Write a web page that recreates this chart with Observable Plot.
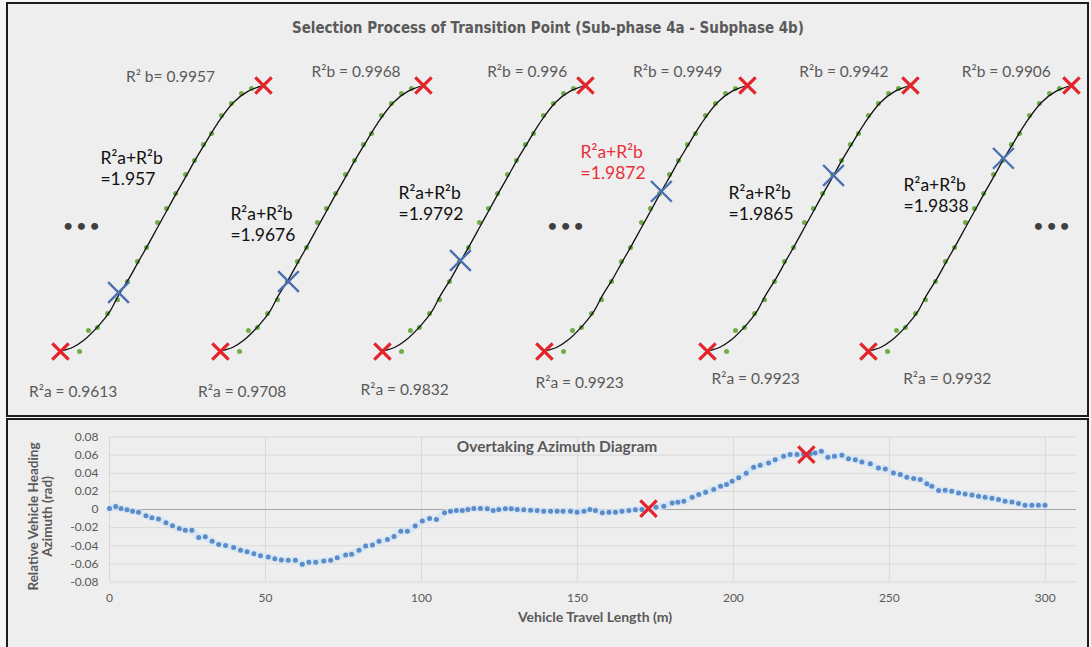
<!DOCTYPE html>
<html>
<head>
<meta charset="utf-8">
<script src="https://cdn.jsdelivr.net/npm/d3@7"></script>
<script src="https://cdn.jsdelivr.net/npm/@observablehq/plot@0.6"></script>
<style>
  html, body { margin:0; padding:0; background:#f5f5f5; }
  body { width:1091px; height:647px; position:relative; overflow:hidden; font-family: Lato, "Open Sans", sans-serif; }
  .panel { position:absolute; box-sizing:border-box; border:2px solid #1c1c1c; background:#eeeeee; }
  #topPanel { left:6px; top:2px; width:1083px; height:415px; }
  #bottomPanel { left:6px; top:418px; width:1083px; height:240px; }
  #topTitle { position:absolute; left:0; top:0; width:100%; height:42px; line-height:46px; text-align:center; }
  #titleText { display:inline-block; transform-origin:50% 50%;
    font-family:"Liberation Sans Narrow","DejaVu Sans Condensed",sans-serif; font-weight:bold; font-size:16.5px; color:#5a5a5a; }
  #topChart { position:absolute; left:0; top:42px; }
  #bottomChart { position:absolute; left:0; top:0; }
</style>
</head>
<body>
<div id="topPanel" class="panel">
  <div id="topTitle"><span id="titleText">Selection Process of Transition Point (Sub-phase 4a - Subphase 4b)</span></div>
  <div id="topChart"></div>
</div>
<div id="bottomPanel" class="panel"><div id="bottomChart"></div></div>
<script>
// ---------- Top panel: lane-change curve (relative units, 0..100) ----------
const shapeX = [0, 1.5, 5.9, 11.3, 19.7, 24.6, 28.6, 33.5, 38.4, 42.9, 47.8, 52.7, 57.6, 62.1, 66.5, 70.4, 77.3, 85.2, 92.1, 100];
const shapeY = [0, 0.4, 1.5, 4.1, 10.5, 15.4, 21.1, 27.1, 33.8, 39.8, 46.6, 53.4, 60.2, 66.2, 72.2, 77.1, 85.7, 93.6, 97.7, 100];
// measured sample points (green)
const sampleX = [9.4, 13.8, 18.2, 23.2, 28.1, 33.0, 37.9, 42.4, 47.8, 52.2, 56.7, 61.6, 66.0, 70.4, 74.4, 79.3, 84.2, 89.2, 94.1];
const sampleY = [0, 7.9, 9.0, 14.3, 19.5, 26.3, 33.8, 39.1, 48.5, 53.8, 59.4, 66.5, 71.8, 77.8, 82.0, 88.7, 93.2, 97.0, 98.9];
// candidate windows
const windowOffset = [0, 78.8, 158.6, 238.4, 318.7, 398];
const transX = [28.6, 33.5, 38.4, 57.6, 62.1, 66.5];
const transY = [22.2, 26.3, 34.2, 60.2, 66.2, 72.6];
const r2a = ["0.9613", "0.9708", "0.9832", "0.9923", "0.9923", "0.9932"];
const r2b = ["0.9957", "0.9968", "0.996", "0.9949", "0.9942", "0.9906"];
const r2sum = ["1.957", "1.9676", "1.9792", "1.9872", "1.9865", "1.9838"];
const selectedWindow = 3;
// annotation anchors (top-panel units)
const r2bPosX = [54.2, 145.6, 229.9, 304.0, 385.9, 465.9];
const r2bPosY = [103.0, 104.9, 104.9, 104.9, 104.9, 104.9];
const r2aPosX = [6.2, 89.5, 169.5, 255.7, 342.4, 436.8];
const r2aPosY = [-15.4, -15.4, -14.3, -11.9, -10.2, -10.2];
const sumPosX = [19.7, 83.7, 166.5, 256.2, 329.1, 415.3];
const sumPosY = [69.0, 48.1, 55.8, 71.4, 55.8, 59.0];
const ellipsisX = [10.3, 248.8, 488.2];
const ellipsisY = [47.4, 47.4, 47.4];

// ---------- Bottom panel: azimuth data ----------
const travel = [0, 2.0, 3.7, 5.6, 7.4, 9.3, 11.7, 13.6, 15.7, 18.1, 20.2, 22.4, 24.3, 26.4, 28.6, 30.7, 32.9, 35.0, 37.2, 39.8,
  42.0, 44.1, 46.3, 48.4, 50.9, 53.0, 55.1, 57.3, 59.6, 61.8, 63.9, 66.1, 68.7, 70.9, 73.0, 75.7, 77.6, 80.0, 82.1, 84.3,
  86.4, 89.1, 91.2, 93.4, 95.5, 98.0, 100.3, 102.6, 104.8, 107.4, 109.3, 111.2, 113.1, 114.9, 116.8, 118.9, 121.1, 123.0, 124.8, 126.9,
  128.8, 130.7, 132.8, 135.0, 137.1, 139.2, 141.4, 143.5, 145.4, 147.8, 149.9, 152.1, 154.0, 155.8, 158.0, 160.1, 162.2, 164.3, 166.5, 168.6,
  170.7, 172.8, 175.2, 177.7, 180.4, 182.2, 184.1, 186.8, 188.9, 191.1, 193.7, 195.9, 197.8, 199.6, 201.7, 204.1, 206.5, 208.6, 211.3, 213.4,
  216.1, 218.2, 220.4, 222.5, 224.6, 226.2, 228.2, 230.3, 232.4, 234.8, 236.9, 239.1, 241.2, 243.9, 246.5, 248.7, 251.3, 253.5, 255.6, 257.8,
  259.9, 262.0, 263.6, 265.8, 267.9, 270.0, 272.2, 274.3, 276.5, 278.6, 280.7, 282.9, 285.0, 287.1, 289.3, 291.4, 293.5, 295.7, 297.8, 299.9];
const azimuth = [0.001, 0.0033, 0.0011, -0.0004, -0.0018, -0.003, -0.007, -0.009, -0.0106, -0.0147, -0.018, -0.021, -0.023, -0.023, -0.031, -0.030, -0.035, -0.0385, -0.0396, -0.042,
  -0.045, -0.0466, -0.0488, -0.051, -0.0525, -0.0543, -0.0558, -0.056, -0.056, -0.0605, -0.0583, -0.0583, -0.0569, -0.0561, -0.0532, -0.0503, -0.0495, -0.0451, -0.0404, -0.0393,
  -0.0349, -0.033, -0.0297, -0.0239, -0.0239, -0.0183, -0.0128, -0.0099, -0.011, -0.0037, -0.0018, -0.0011, -0.0011, 0, 0.0011, 0.0011, 0.0007, -0.0011, 0, 0.0007,
  0.0007, 0, -0.0004, -0.0007, -0.0011, -0.0018, -0.0018, -0.0018, -0.0018, -0.0018, -0.0029, -0.0018, 0, -0.0011, -0.0037, -0.0029, -0.0029, -0.0018, -0.0011, -0.0004,
  0, 0.001, 0.0026, 0.0037, 0.0073, 0.0081, 0.0092, 0.0136, 0.0165, 0.0191, 0.022, 0.0257, 0.0275, 0.0312, 0.0349, 0.040, 0.0466, 0.0488, 0.0514, 0.055,
  0.0587, 0.0606, 0.0606, 0.0613, 0.0613, 0.0624, 0.0642, 0.0576, 0.0587, 0.0598, 0.0561, 0.055, 0.0525, 0.0506, 0.0459, 0.0448, 0.0404, 0.0385, 0.0356, 0.0341,
  0.033, 0.0283, 0.0257, 0.0209, 0.0213, 0.0202, 0.0183, 0.0172, 0.0161, 0.0147, 0.0136, 0.0125, 0.011, 0.0092, 0.0084, 0.0066, 0.0048, 0.0048, 0.0048, 0.0048];
const transitionTravel = [172.8, 223.4];
const transitionAzimuth = [0.001, 0.0605];
const xTicks = [0, 50, 100, 150, 200, 250, 300];
const yTicks = [-0.08, -0.06, -0.04, -0.02, 0, 0.02, 0.04, 0.06, 0.08];
const yTitleLines = ["Relative Vehicle Heading", "Azimuth (rad)"];

// ---------- build tables ----------
const curveRows = [], sampleRows = [], endRows = [], transRows = [];
windowOffset.forEach((off, i) => {
  shapeX.forEach((sx, j) => curveRows.push({u: sx + off, v: shapeY[j], w: i}));
  sampleX.forEach((sx, j) => sampleRows.push({u: sx + off, v: sampleY[j]}));
  endRows.push({u: shapeX[0] + off, v: shapeY[0]});
  endRows.push({u: shapeX[shapeX.length - 1] + off, v: shapeY[shapeY.length - 1]});
  transRows.push({u: transX[i] + off, v: transY[i]});
});
const r2bRows = r2b.map((s, i) => ({u: r2bPosX[i], v: r2bPosY[i], t: i === 0 ? `R² b= ${s}` : `R²b = ${s}`}));
const r2aRows = r2a.map((s, i) => ({u: r2aPosX[i], v: r2aPosY[i], t: `R²a = ${s}`}));
const sumRows = r2sum.map((s, i) => ({u: sumPosX[i], v: sumPosY[i], t: `R²a+R²b\n=${s}`, sel: i === selectedWindow}));
const ellRows = ellipsisX.map((x, i) => ({u: x, v: ellipsisY[i]}));

const FONT = "Lato, 'Open Sans', sans-serif";

const topPlot = Plot.plot({
  width: 1079, height: 369,
  marginTop: 0, marginRight: 0, marginBottom: 0, marginLeft: 0,
  x: {domain: [-25.6, 505.9], axis: null},
  y: {domain: [-24.06, 114.66], axis: null},
  style: {background: "transparent", fontFamily: FONT, overflow: "visible"},
  marks: [
    Plot.dot(sampleRows, {x: "u", y: "v", r: 2.5, fill: "#70ad47", stroke: "none"}),
    Plot.line(curveRows, {x: "u", y: "v", z: "w", stroke: "#111111", strokeWidth: 1.3, curve: "catmull-rom"}),
    Plot.dot(endRows, {x: "u", y: "v", symbol: "times", r: 7.5, stroke: "#e3242b", strokeWidth: 3.2}),
    Plot.dot(transRows, {x: "u", y: "v", symbol: "times", r: 9.5, stroke: "#4a6fb3", strokeWidth: 2.4}),
    Plot.text(r2bRows, {x: "u", y: "v", text: "t", fill: "#5a5a5a", fontSize: 15.5, textAnchor: "middle"}),
    Plot.text(r2aRows, {x: "u", y: "v", text: "t", fill: "#5a5a5a", fontSize: 15.5, textAnchor: "middle"}),
    Plot.text(sumRows.filter(d => !d.sel), {x: "u", y: "v", text: "t", fill: "#111111", fontSize: 17.5, textAnchor: "start", lineHeight: 1.2}),
    Plot.text(sumRows.filter(d => d.sel), {x: "u", y: "v", text: "t", fill: "#e8303a", fontSize: 17.5, textAnchor: "start", lineHeight: 1.2}),
    Plot.text(ellRows, {x: "u", y: "v", text: () => "• • •", fill: "#3f3f3f", fontSize: 16, fontWeight: "bold", textAnchor: "middle"})
  ]
});
document.getElementById("topChart").appendChild(topPlot);

const azRows = travel.map((t, i) => ({t, a: azimuth[i]}));
const trRows = transitionTravel.map((t, i) => ({t, a: transitionAzimuth[i]}));
const fmt = d => d === 0 ? "0" : d.toFixed(2);
const yTitleStyle = {frameAnchor: "left", textAnchor: "middle", rotate: -90, dy: 7, fill: "#595959", fontSize: 13.5, fontWeight: "bold", text: d => d};

const bottomPlot = Plot.plot({
  width: 1079, height: 226,
  marginLeft: 101, marginRight: 11, marginTop: 16.5, marginBottom: 64.5,
  x: {domain: [0, 310], ticks: xTicks, tickSize: 0, tickPadding: 11, label: null},
  y: {domain: [-0.08, 0.08], ticks: yTicks, tickSize: 0, tickPadding: 11, tickFormat: fmt, label: null},
  style: {background: "transparent", fontFamily: FONT, fontSize: "12px", color: "#595959", overflow: "visible"},
  marks: [
    Plot.ruleY(yTicks.filter(d => d !== 0), {stroke: "#d9d9d9", strokeWidth: 1}),
    Plot.ruleX(xTicks, {stroke: "#d9d9d9", strokeWidth: 1}),
    Plot.ruleY([0], {stroke: "#a6a6a6", strokeWidth: 1}),
    Plot.line(azRows, {x: "t", y: "a", stroke: "#d3e4f5", strokeWidth: 7, strokeOpacity: 0.8}),
    Plot.dot(azRows, {x: "t", y: "a", r: 2.5, fill: "#5b8cca", stroke: "none"}),
    Plot.dot(trRows, {x: "t", y: "a", symbol: "times", r: 7.5, stroke: "#e3242b", strokeWidth: 3.2}),
    Plot.text(["Overtaking Azimuth Diagram"], {frameAnchor: "top", dx: -36, dy: 4, text: d => d, fill: "#595959", fontSize: 15.5, fontWeight: "bold"}),
    Plot.text(["Vehicle Travel Length (m)"], {frameAnchor: "bottom", dx: 2, dy: 40, text: d => d, fill: "#595959", fontSize: 14, fontWeight: "bold"}),
    Plot.text([yTitleLines[0]], {...yTitleStyle, dx: -76}),
    Plot.text([yTitleLines[1]], {...yTitleStyle, dx: -62})
  ]
});
document.getElementById("bottomChart").appendChild(bottomPlot);

// fit the title to the width it occupies in the original
const tt = document.getElementById("titleText");
const tw = tt.getBoundingClientRect().width;
if (tw > 0) tt.style.transform = `scaleX(${512 / tw})`;
</script>
</body>
</html>
